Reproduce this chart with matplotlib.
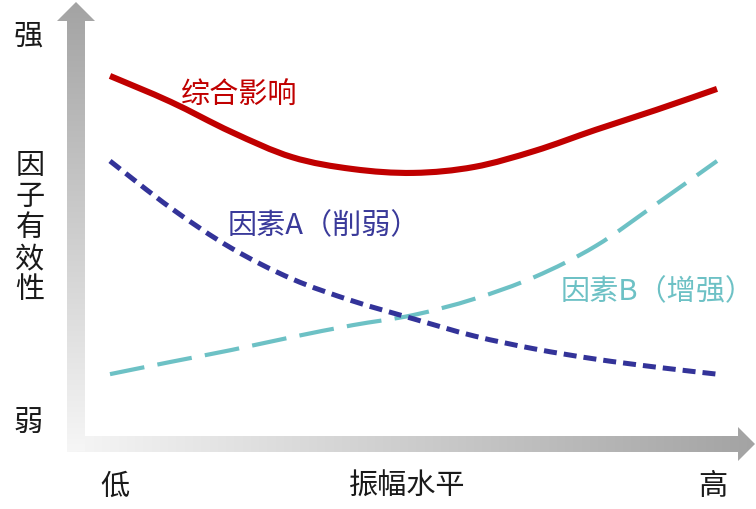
import numpy as np
import matplotlib
matplotlib.use("Agg")
import matplotlib.pyplot as plt
from matplotlib.path import Path
from matplotlib.patches import PathPatch

plt.rcParams['font.family'] = ['Noto Sans CJK SC', 'DejaVu Sans']

# ---- data (conceptual) ----
amplitude = [0, 1, 2, 3, 4, 5, 6, 7, 8, 9, 10]
combined = [9.23, 8.49, 7.63, 6.91, 6.57, 6.46, 6.63, 7.09, 7.69, 8.26, 8.86]
factor_a = [6.80, 5.46, 4.31, 3.43, 2.80, 2.29, 1.80, 1.43, 1.14, 0.91, 0.71]
factor_b = [0.71, 1.06, 1.40, 1.77, 2.11, 2.40, 2.86, 3.49, 4.37, 5.57, 6.80]

label_combined = "综合影响"
label_a = "因素A（削弱）"
label_b = "因素B（增强）"
y_label = "因子有效性"
y_top, y_bottom = "强", "弱"
x_left, x_mid, x_right = "低", "振幅水平", "高"

RED = "#c00000"
BLUE = "#333399"
TEAL = "#6dc1c5"
TXT = "#1a1a1a"

W, H = 756, 510
fig = plt.figure(figsize=(W / 100, H / 100), dpi=100)

# background axes in pixel coordinates (for arrows and labels)
bg = fig.add_axes([0, 0, 1, 1])
bg.set_xlim(0, W)
bg.set_ylim(H, 0)
bg.axis('off')

def gradient_arrow(ax, verts, direction):
    path = Path(verts + [verts[0]], closed=True)
    patch = PathPatch(path, facecolor='none', edgecolor='none')
    ax.add_patch(patch)
    xs = [v[0] for v in verts]
    ys = [v[1] for v in verts]
    x0, x1, y0, y1 = min(xs), max(xs), min(ys), max(ys)
    g = np.linspace(0, 1, 256)
    light, dark = 0.965, 0.64
    if direction == 'x':
        vals = light + (dark - light) * g
        img = np.tile(vals, (2, 1))
    else:
        vals = dark + (light - dark) * g  # top dark -> bottom light
        img = np.tile(vals[:, None], (1, 2))
    rgb = np.dstack([img, img, img])
    im = ax.imshow(rgb, extent=(x0, x1, y1, y0), origin='upper',
                   aspect='auto', interpolation='bilinear')
    im.set_clip_path(patch)

# X arrow
gradient_arrow(bg, [(67, 437), (738, 437), (738, 428), (755, 445),
                    (738, 462), (738, 453), (67, 453)], 'x')
# Y arrow
gradient_arrow(bg, [(67, 452), (67, 22), (57, 22), (76, 3),
                    (95, 22), (85, 22), (85, 452)], 'y')
bg.set_xlim(0, W)
bg.set_ylim(H, 0)

fs = 21
bg.text(28, 37, y_top, fontsize=fs, color=TXT, ha='center', va='center')
bg.text(28, 424, y_bottom, fontsize=fs, color=TXT, ha='center', va='center')
for i, ch in enumerate(y_label):
    bg.text(30, 166 + 31 * i, ch, fontsize=fs, color=TXT, ha='center', va='center')
bg.text(115, 487, x_left, fontsize=fs, color=TXT, ha='center', va='center')
bg.text(407, 487, x_mid, fontsize=fs, color=TXT, ha='center', va='center')
bg.text(713, 487, x_right, fontsize=fs, color=TXT, ha='center', va='center')

bg.text(239, 96, label_combined, fontsize=fs, color=RED, ha='center', va='center')
bg.text(228, 226, label_a, fontsize=fs, color="#3a3a9a", ha='left', va='center')
bg.text(561, 292, label_b, fontsize=fs, color=TEAL, ha='left', va='center')

# data axes for the curves
ax = fig.add_axes([110 / W, (H - 400) / H, (717 - 110) / W, 350 / H])
ax.set_xlim(0, 10)
ax.set_ylim(0, 10)
ax.axis('off')
ax.patch.set_alpha(0)


def smooth_path(xs, ys):
    """Catmull-Rom spline through the given points, as cubic Bezier path."""
    p = np.column_stack([xs, ys]).astype(float)
    n = len(p)
    ext = np.vstack([p[0], p, p[-1]])
    verts = [tuple(p[0])]
    codes = [Path.MOVETO]
    for i in range(n - 1):
        p0, p1, p2, p3 = ext[i], ext[i + 1], ext[i + 2], ext[i + 3]
        c1 = p1 + (p2 - p0) / 6.0
        c2 = p2 - (p3 - p1) / 6.0
        verts += [tuple(c1), tuple(c2), tuple(p2)]
        codes += [Path.CURVE4] * 3
    return Path(verts, codes)


def add_curve(xs, ys, **kw):
    patch = PathPatch(smooth_path(xs, ys), facecolor='none', transform=ax.transData,
                      clip_on=False, **kw)
    ax.add_patch(patch)


add_curve(amplitude, factor_b, edgecolor=TEAL, lw=3.0, linestyle=(0, (8.4, 3.2)),
          capstyle='butt')
add_curve(amplitude, factor_a, edgecolor=BLUE, lw=3.6, linestyle=(0, (2.6, 1.4)),
          capstyle='butt')
add_curve(amplitude, combined, edgecolor=RED, lw=4.4, capstyle='butt',
          joinstyle='round')

fig.savefig("out.png", dpi=100)
